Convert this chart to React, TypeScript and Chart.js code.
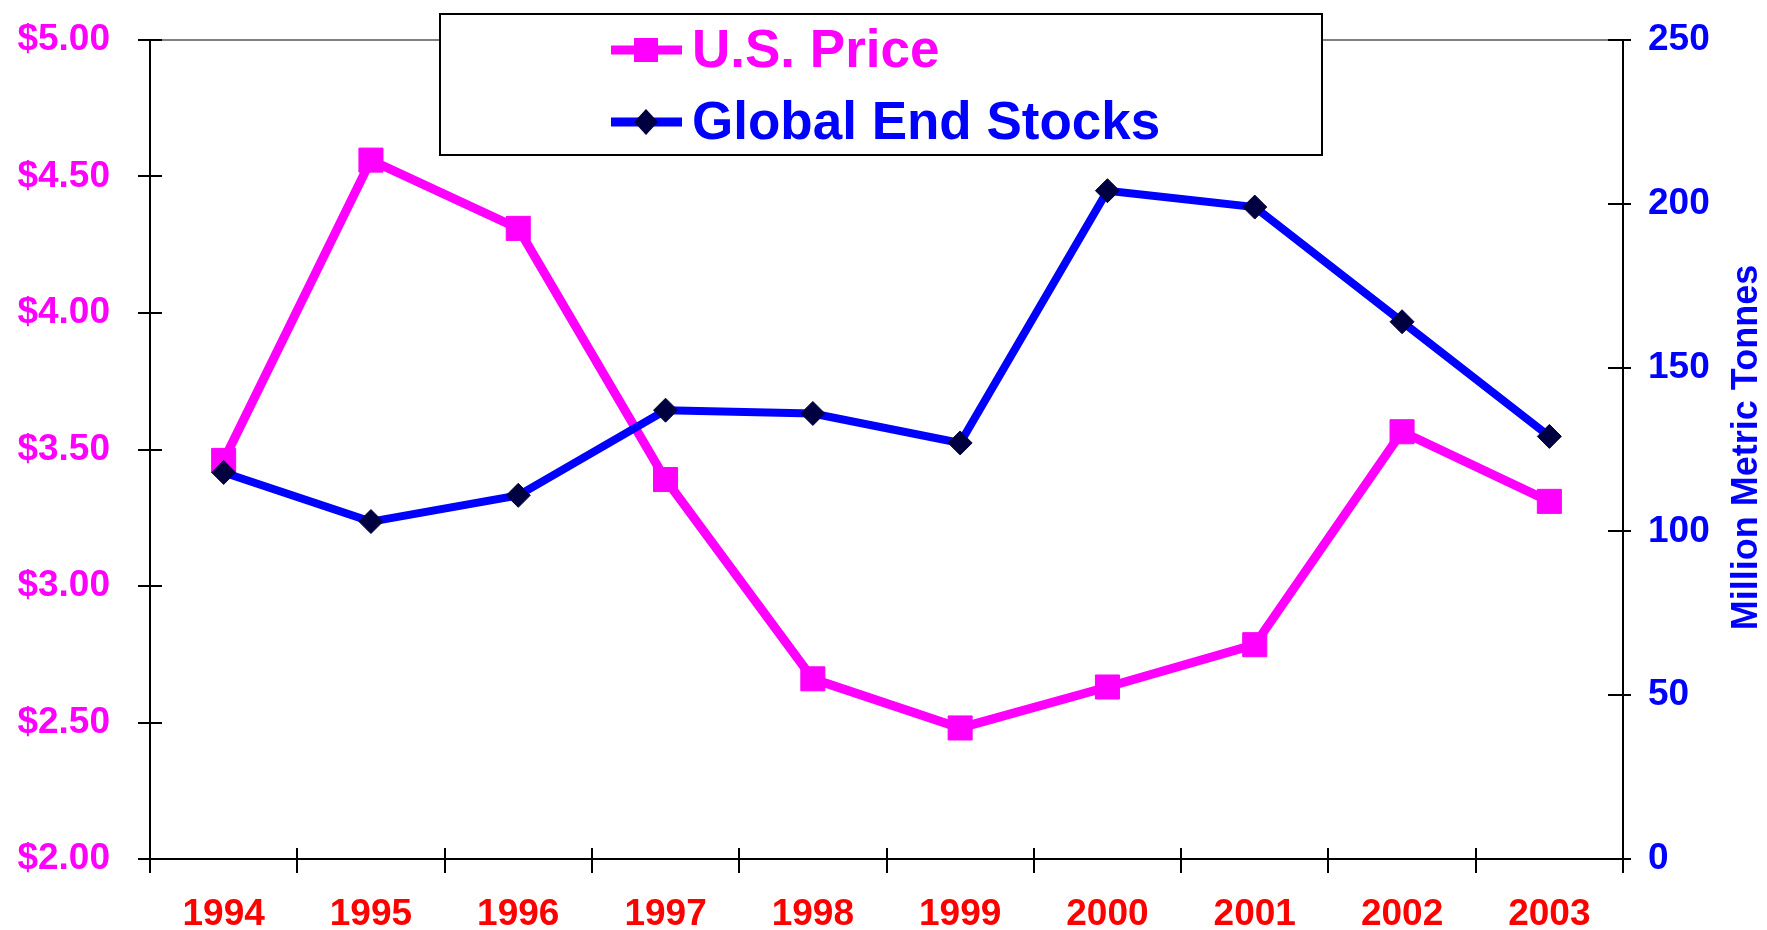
import React, { useEffect, useRef } from "react";
import { Chart, registerables } from "chart.js";

Chart.register(...registerables);

const years = ["1994", "1995", "1996", "1997", "1998", "1999", "2000", "2001", "2002", "2003"];
const usPrice = [3.46, 4.56, 4.31, 3.39, 2.66, 2.48, 2.63, 2.785, 3.565, 3.31];
const globalEndStocks = [118, 103, 111, 137, 136, 127, 204, 199, 164, 129];

const priceMin = 2;
const priceMax = 5;
const priceStep = 0.5;
const stockMin = 0;
const stockMax = 250;
const stockStep = 50;

const seriesLabels = ["U.S. Price", "Global End Stocks"];
const rightAxisTitle = "Million Metric Tonnes";

const FONT = '"Liberation Sans", Arial, Helvetica, sans-serif';
const MAGENTA = "#FF00FF";
const BLUE = "#0000FF";
const NAVY = "#000040";
const RED = "#FF0000";

const W = 1767;
const H = 930;

const decorPlugin = {
  id: "decor",
  beforeDatasetsDraw(chart: any) {
    const { ctx, chartArea: a, scales } = chart;
    ctx.save();
    ctx.lineCap = "butt";
    ctx.strokeStyle = "#808080";
    ctx.lineWidth = 2;
    ctx.beginPath();
    ctx.moveTo(a.left, a.top);
    ctx.lineTo(a.right, a.top);
    ctx.stroke();
    ctx.strokeStyle = "#000";
    ctx.lineWidth = 2;
    const yl = scales.y;
    yl.ticks.forEach((_t: any, i: number) => {
      const y = Math.round(yl.getPixelForTick(i));
      ctx.beginPath();
      ctx.moveTo(a.left, y);
      ctx.lineTo(a.left + 12, y);
      ctx.stroke();
    });
    const yr = scales.y1;
    yr.ticks.forEach((_t: any, i: number) => {
      const y = Math.round(yr.getPixelForTick(i));
      ctx.beginPath();
      ctx.moveTo(a.right - 15, y);
      ctx.lineTo(a.right, y);
      ctx.stroke();
    });
    const xs = scales.x;
    for (let i = 1; i < years.length; i++) {
      const x = Math.round((xs.getPixelForValue(i - 1) + xs.getPixelForValue(i)) / 2);
      ctx.beginPath();
      ctx.moveTo(x, a.bottom - 11);
      ctx.lineTo(x, a.bottom);
      ctx.stroke();
    }
    ctx.restore();
  },
  afterDraw(chart: any) {
    const { ctx } = chart;
    ctx.save();
    const bx = 440, by = 14, bw = 882, bh = 141;
    ctx.fillStyle = "#FFFFFF";
    ctx.fillRect(bx, by, bw, bh);
    ctx.strokeStyle = "#000";
    ctx.lineWidth = 2;
    ctx.strokeRect(bx, by, bw, bh);
    const rows = [50, 122];
    chart.data.datasets.forEach((ds: any, i: number) => {
      const y = rows[i];
      ctx.strokeStyle = ds.borderColor;
      ctx.lineWidth = 9;
      ctx.beginPath();
      ctx.moveTo(611, y);
      ctx.lineTo(682, y);
      ctx.stroke();
      ctx.fillStyle = ds.pointBackgroundColor;
      if (ds.pointStyle === "rect") {
        ctx.fillRect(634, y - 12, 24, 24);
      } else {
        ctx.beginPath();
        ctx.moveTo(646, y - 13);
        ctx.lineTo(658, y);
        ctx.lineTo(646, y + 13);
        ctx.lineTo(634, y);
        ctx.closePath();
        ctx.fill();
      }
      ctx.fillStyle = ds.borderColor;
      ctx.font = `bold 53px ${FONT}`;
      ctx.textAlign = "left";
      ctx.textBaseline = "middle";
      ctx.fillText(ds.label, 692, y + 2);
    });
    const a = chart.chartArea;
    ctx.translate(W - 20, (a.top + a.bottom) / 2 - 2);
    ctx.rotate(-Math.PI / 2);
    ctx.fillStyle = BLUE;
    ctx.font = `bold 36px ${FONT}`;
    ctx.textAlign = "center";
    ctx.textBaseline = "middle";
    ctx.fillText(rightAxisTitle, 0, 0);
    ctx.restore();
  },
};

export default function App() {
  const ref = useRef<HTMLCanvasElement | null>(null);

  useEffect(() => {
    document.body.style.margin = "0";
    const canvas = ref.current;
    if (!canvas) return;
    const chart = new Chart(canvas, {
      type: "line",
      data: {
        labels: years,
        datasets: [
          {
            label: seriesLabels[0],
            data: usPrice,
            yAxisID: "y",
            borderColor: MAGENTA,
            backgroundColor: MAGENTA,
            borderWidth: 9,
            pointStyle: "rect",
            pointRadius: 17,
            pointBackgroundColor: MAGENTA,
            pointBorderColor: MAGENTA,
            pointBorderWidth: 1,
            tension: 0,
            fill: false,
            order: 1,
          },
          {
            label: seriesLabels[1],
            data: globalEndStocks,
            yAxisID: "y1",
            borderColor: BLUE,
            backgroundColor: BLUE,
            borderWidth: 8,
            pointStyle: "rectRot",
            pointRadius: 12,
            pointBackgroundColor: NAVY,
            pointBorderColor: NAVY,
            pointBorderWidth: 1,
            tension: 0,
            fill: false,
            order: 0,
          },
        ],
      },
      options: {
        responsive: false,
        maintainAspectRatio: false,
        animation: false,
        devicePixelRatio: 1,
        layout: { padding: { top: 40, left: 0, right: 0, bottom: 0 } },
        plugins: {
          legend: { display: false },
          tooltip: { enabled: false },
        },
        scales: {
          x: {
            type: "category",
            offset: true,
            grid: {
              offset: true,
              drawOnChartArea: false,
              tickLength: 14,
              color: "#000",
              lineWidth: 2,
            },
            border: { display: true, color: "#000", width: 2 },
            ticks: {
              color: RED,
              font: { family: FONT, size: 37, weight: "bold" },
              padding: 20,
              autoSkip: false,
              maxRotation: 0,
              minRotation: 0,
            },
            afterFit: (s: any) => {
              s.height = 71;
              s.paddingLeft = 0;
              s.paddingRight = 0;
            },
          },
          y: {
            position: "left",
            min: priceMin,
            max: priceMax,
            grid: { drawOnChartArea: false, tickLength: 12, color: "#000", lineWidth: 2 },
            border: { display: true, color: "#000", width: 2 },
            ticks: {
              stepSize: priceStep,
              color: MAGENTA,
              font: { family: FONT, size: 37, weight: "bold" },
              padding: 28,
              callback: (v: any) => "$" + Number(v).toFixed(2),
            },
            afterFit: (s: any) => {
              s.width = 150;
              s.paddingTop = 0;
              s.paddingBottom = 0;
            },
          },
          y1: {
            position: "right",
            min: stockMin,
            max: stockMax,
            grid: { drawOnChartArea: false, tickLength: 8, color: "#000", lineWidth: 2 },
            border: { display: true, color: "#000", width: 2 },
            ticks: {
              stepSize: stockStep,
              color: BLUE,
              font: { family: FONT, size: 37, weight: "bold" },
              padding: 17,
            },
            afterFit: (s: any) => {
              s.width = 144;
              s.paddingTop = 0;
              s.paddingBottom = 0;
            },
          },
        },
      },
      plugins: [decorPlugin],
    });
    return () => chart.destroy();
  }, []);

  return (
    <div style={{ position: "fixed", left: 0, top: 0, width: W, height: H, background: "#fff" }}>
      <canvas ref={ref} width={W} height={H} style={{ display: "block", width: W, height: H }} />
    </div>
  );
}
